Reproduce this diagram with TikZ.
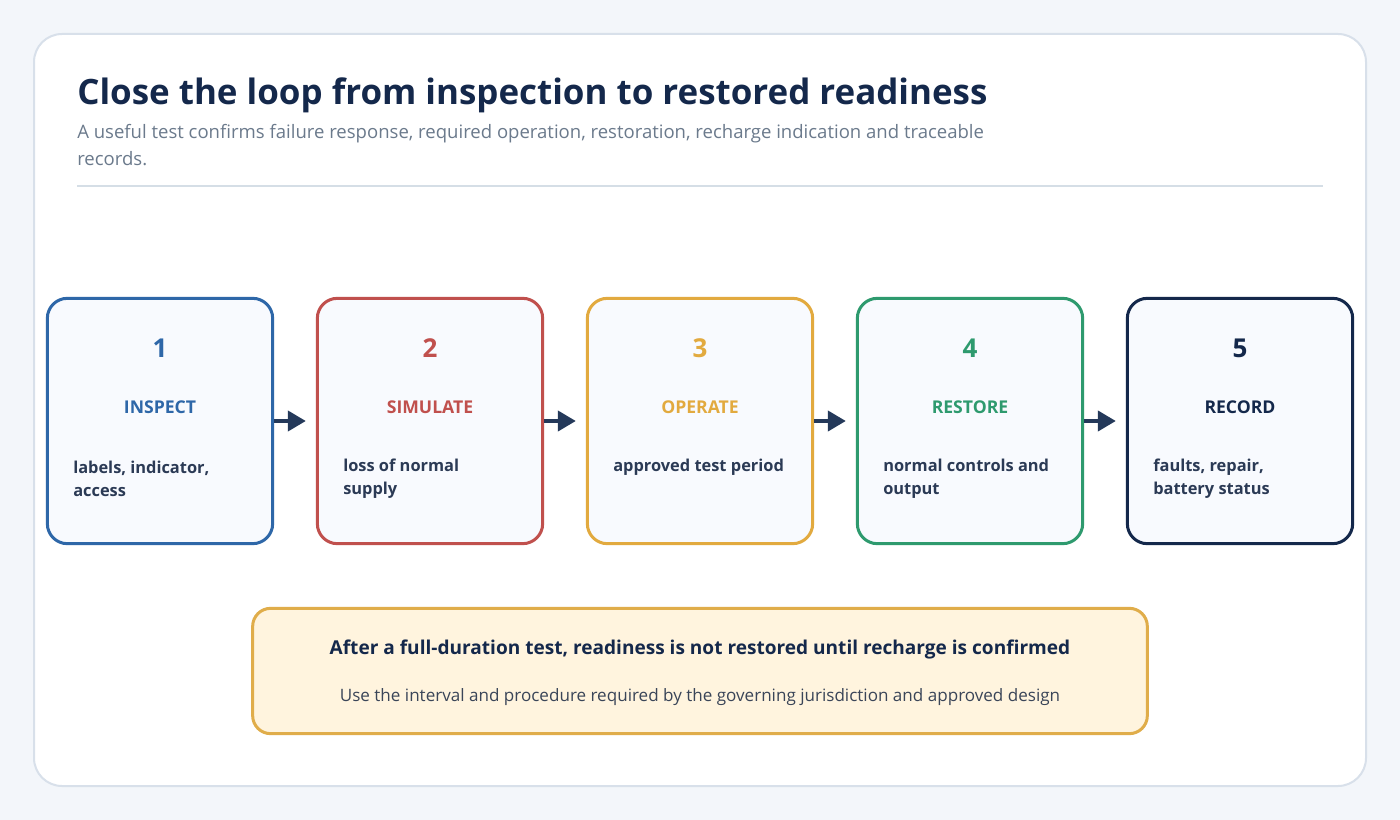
\documentclass[tikz,border=0pt]{standalone}
\usepackage{fontspec}
\setmainfont{Open Sans}
\usetikzlibrary{arrows.meta,positioning}

\definecolor{pagebg}{HTML}{F3F6FA}
\definecolor{cardline}{HTML}{D8E0EA}
\definecolor{rulecol}{HTML}{D5DEE6}
\definecolor{navy}{HTML}{14284B}
\definecolor{subgray}{HTML}{6B7A8C}
\definecolor{desccol}{HTML}{2B3A55}
\definecolor{boxfill}{HTML}{F8FAFE}
\definecolor{stepblue}{HTML}{2E67A8}
\definecolor{stepred}{HTML}{C0504D}
\definecolor{stepyellow}{HTML}{E2AA3F}
\definecolor{stepgreen}{HTML}{2E9A6E}
\definecolor{arrowcol}{HTML}{24395A}
\definecolor{notefill}{HTML}{FFF4DE}
\definecolor{noteline}{HTML}{E0AD4A}
\definecolor{notetext}{HTML}{3A4558}

\tikzset{
  stepbox/.style={draw=#1, line width=2.25pt, rounded corners=15pt, fill=boxfill,
    minimum width=169pt, minimum height=184pt, inner sep=0pt},
  stepnum/.style={text=#1, font=\fontsize{19.5pt}{22pt}\selectfont\bfseries},
  steptitle/.style={text=#1, font=\fontsize{13.2pt}{15pt}\selectfont\bfseries},
  stepdesc/.style={text=desccol, anchor=west, align=left, inner sep=0pt,
    font=\fontsize{12.3pt}{17.25pt}\selectfont\bfseries},
  flow/.style={draw=arrowcol, line width=3pt, shorten >=7.5pt,
    -{Triangle[length=13.5pt,width=15pt]}}
}

\begin{document}
\begin{tikzpicture}[x=0.75pt, y=-0.75pt]
\useasboundingbox (0,0) rectangle (1400,820);
\fill[pagebg] (0,0) rectangle (1400,820);
\draw[cardline, line width=1.5pt, fill=white, rounded corners=21pt] (34,34) rectangle (1366,786);

% heading
\node[anchor=base west, inner sep=0pt, text=navy, font=\fontsize{26.2pt}{30pt}\selectfont\bfseries]
  (title) at (77,105) {Close the loop from inspection to restored readiness};
\node[anchor=base west, inner sep=0pt, text=subgray, align=left, font=\fontsize{13.9pt}{20.25pt}\selectfont]
  (subtitle) at (77,166) {A useful test confirms failure response, required operation, restoration, recharge indication and traceable\\records.};
\draw[rulecol, line width=1.5pt] (77,186) -- (1323,186);

% steps
\node[stepbox=stepblue] (b1) at (160,421) {};
\node[stepnum=stepblue] at (160,348) {1};
\node[steptitle=stepblue] at (160,407) {INSPECT};
\node[stepdesc] at (73,478.5) {labels, indicator,\\access};

\node[stepbox=stepred] (b2) at (430,421) {};
\node[stepnum=stepred] at (430,348) {2};
\node[steptitle=stepred] at (430,407) {SIMULATE};
\node[stepdesc] at (343,478.5) {loss of normal\\supply};

\node[stepbox=stepyellow] (b3) at (700,421) {};
\node[stepnum=stepyellow] at (700,348) {3};
\node[steptitle=stepyellow] at (700,407) {OPERATE};
\node[stepdesc] at (613,467) {approved test period};

\node[stepbox=stepgreen] (b4) at (970,421) {};
\node[stepnum=stepgreen] at (970,348) {4};
\node[steptitle=stepgreen] at (970,407) {RESTORE};
\node[stepdesc] at (883,478.5) {normal controls and\\output};

\node[stepbox=navy] (b5) at (1240,421) {};
\node[stepnum=navy] at (1240,348) {5};
\node[steptitle=navy] at (1240,407) {RECORD};
\node[stepdesc] at (1153,478.5) {faults, repair,\\battery status};

\draw[flow] (b1) -- (b2);
\draw[flow] (b2) -- (b3);
\draw[flow] (b3) -- (b4);
\draw[flow] (b4) -- (b5);

% note
\node[draw=noteline, fill=notefill, line width=2.25pt, rounded corners=13.5pt,
  minimum width=671pt, minimum height=94pt] (note) at (700,671) {};
\node[text=navy, font=\fontsize{14.3pt}{17pt}\selectfont\bfseries] at (700,649)
  {After a full-duration test, readiness is not restored until recharge is confirmed};
\node[text=notetext, font=\fontsize{12.8pt}{15pt}\selectfont] at (700,697)
  {Use the interval and procedure required by the governing jurisdiction and approved design};
\end{tikzpicture}
\end{document}
